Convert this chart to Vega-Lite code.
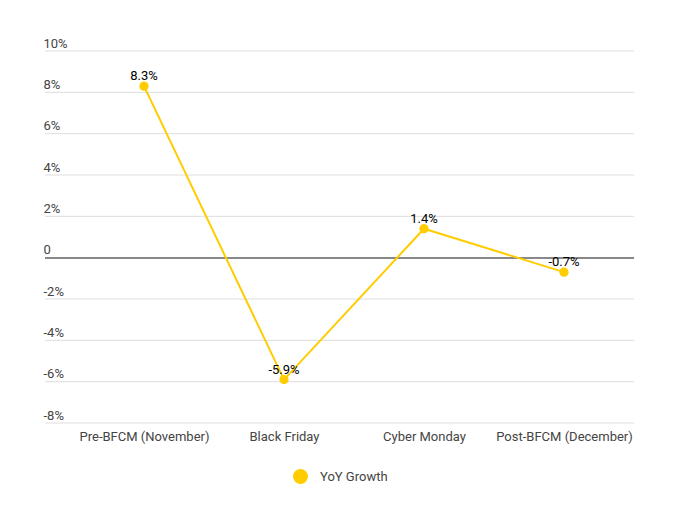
{
  "$schema": "https://vega.github.io/schema/vega-lite/v6.json",
  "width": 589,
  "height": 372,
  "autosize": {"type": "none"},
  "padding": {"left": 45, "top": 51, "right": 52, "bottom": 89},
  "background": "white",
  "config": {
    "font": "Roboto",
    "view": {"stroke": null}
  },
  "datasets": {
    "growth": [
      {"period": "Pre-BFCM (November)", "growth": 8.3, "label": "8.3%", "series": "YoY Growth"},
      {"period": "Black Friday", "growth": -5.9, "label": "-5.9%", "series": "YoY Growth"},
      {"period": "Cyber Monday", "growth": 1.4, "label": "1.4%", "series": "YoY Growth"},
      {"period": "Post-BFCM (December)", "growth": -0.7, "label": "-0.7%", "series": "YoY Growth"}
    ],
    "grid": [
      {"v": -8}, {"v": -6}, {"v": -4}, {"v": -2}, {"v": 2}, {"v": 4}, {"v": 6}, {"v": 8}, {"v": 10}
    ]
  },
  "layer": [
    {
      "data": {"name": "grid"},
      "mark": {"type": "rule", "color": "#dddddd", "strokeWidth": 1},
      "encoding": {
        "y": {
          "field": "v",
          "type": "quantitative",
          "scale": {"domain": [-8, 10], "nice": false, "zero": false},
          "axis": {
            "title": null,
            "values": [-8, -6, -4, -2, 0, 2, 4, 6, 8, 10],
            "labelExpr": "datum.value == 0 ? '0' : datum.value + '%'",
            "domain": false,
            "ticks": false,
            "grid": false,
            "labelAlign": "left",
            "labelBaseline": "bottom",
            "labelPadding": 2,
            "labelOffset": -1,
            "labelFont": "Roboto",
            "labelFontSize": 13,
            "labelColor": "#444444"
          }
        }
      }
    },
    {
      "data": {"name": "grid"},
      "mark": {"type": "rule", "color": "#888888", "strokeWidth": 1.5},
      "encoding": {"y": {"datum": 0, "type": "quantitative"}}
    },
    {
      "data": {"name": "growth"},
      "encoding": {
        "x": {
          "field": "period",
          "type": "ordinal",
          "sort": null,
          "scale": {"type": "point", "range": [99, 519], "padding": 0},
          "axis": {
            "title": null,
            "labelAngle": 0,
            "domain": false,
            "ticks": false,
            "grid": false,
            "labelFont": "Roboto",
            "labelFontSize": 13,
            "labelColor": "#444444",
            "labelPadding": 7
          }
        },
        "y": {"field": "growth", "type": "quantitative"}
      },
      "layer": [
        {
          "mark": {"type": "line", "strokeWidth": 2},
          "encoding": {
            "color": {
              "field": "series",
              "type": "nominal",
              "scale": {"range": ["#FFCC00"]},
              "legend": {
                "title": null,
                "orient": "none",
                "legendX": 248,
                "legendY": 418,
                "symbolType": "circle",
                "symbolSize": 225,
                "symbolStrokeWidth": 0,
                "symbolFillColor": "#FFCC00",
                "labelFont": "Roboto",
                "labelFontSize": 13,
                "labelColor": "#444444",
                "labelOffset": 12,
                "padding": 0
              }
            }
          }
        },
        {
          "mark": {"type": "point", "filled": true, "size": 85, "color": "#FFCC00", "opacity": 1}
        },
        {
          "mark": {"type": "text", "dy": -3, "baseline": "bottom", "fontSize": 13, "font": "Roboto", "color": "#000000"},
          "encoding": {
            "text": {"field": "label", "type": "nominal"}
          }
        }
      ]
    }
  ]
}
